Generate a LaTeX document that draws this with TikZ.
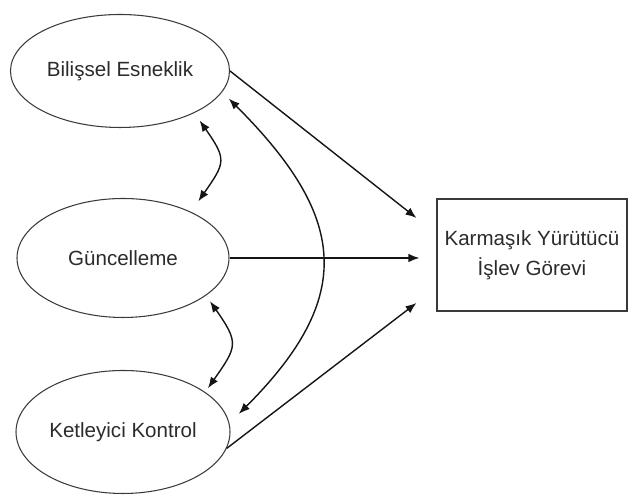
\documentclass[tikz,border=0pt]{standalone}
\usepackage{fontspec}
\setmainfont{Liberation Sans}
\usetikzlibrary{arrows.meta,shapes.geometric}
\definecolor{LabelGray}{HTML}{2B2B2B}
\definecolor{EdgeGray}{HTML}{3A3A3A}
\definecolor{LineBlack}{HTML}{151515}

\begin{document}
\begin{tikzpicture}[font=\fontsize{11.7}{17}\selectfont,>={Latex[length=2.2mm,width=1.7mm]},
    factor/.style={ellipse,draw=EdgeGray,line width=0.6pt,inner sep=0pt,text=LabelGray},
    effect/.style={->,line width=0.8pt,draw=LineBlack},
    cov/.style={<->,line width=0.8pt,draw=LineBlack,out=-55,in=55,looseness=1.5}]
  \useasboundingbox (0,0) rectangle (12.58,10);

  % Executive function components.
  \node[factor,minimum width=4.38cm,minimum height=2.26cm] (flex) at (2.40,8.58)
    {Bilişsel Esneklik};
  \node[factor,minimum width=4.24cm,minimum height=2.38cm] (upd) at (2.46,4.84)
    {Güncelleme};
  \node[factor,minimum width=4.28cm,minimum height=2.46cm] (inhib) at (2.46,1.36)
    {Ketleyici Kontrol};

  % Outcome task.
  \node[draw=EdgeGray,line width=0.6pt,text=LabelGray,align=center,
    minimum width=3.8cm,minimum height=2.24cm] (task) at (10.64,4.90)
    {Karmaşık Yürütücü\\İşlev Görevi};
  \coordinate (in1) at ([shift={(-0.40,0.74)}]task.west);
  \coordinate (in2) at ([shift={(-0.34,-0.06)}]task.west);
  \coordinate (in3) at ([shift={(-0.40,-0.96)}]task.west);

  % Direct effects.
  \draw[effect] (flex.east) -- (in1);
  \draw[effect] (upd.east) -- (in2);
  \draw[effect] (inhib.-9) -- (in3);

  % Correlations between components.
  \draw[cov] ([shift={(0.22,-0.10)}]flex.-33) to ([shift={(0.26,0.16)}]upd.38);
  \draw[cov] ([shift={(0.16,-0.06)}]upd.-27) to ([shift={(0.18,0)}]inhib.30);
  \draw[cov,out=-45,in=45,looseness=1.35] ([xshift=0.25cm]flex.-16)
    to ([xshift=0.26cm]inhib.10);
\end{tikzpicture}
\end{document}
